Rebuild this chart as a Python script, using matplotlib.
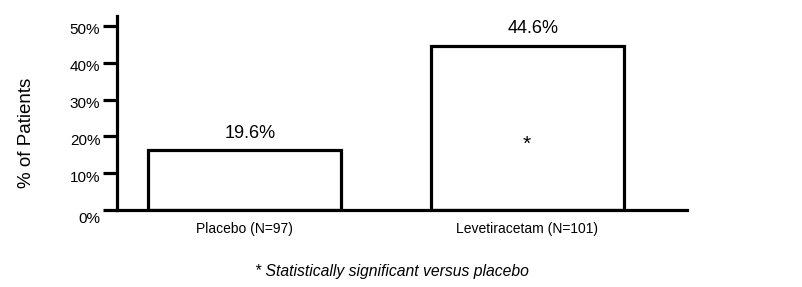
import matplotlib
matplotlib.use("Agg")
import matplotlib.pyplot as plt
import matplotlib.transforms as mtransforms

categories = ["Placebo (N=97)", "Levetiracetam (N=101)"]
bar_heights = [16.2, 44.6]          # heights as drawn in the picture
value_labels = ["19.6%", "44.6%"]   # printed labels
y_ticks = [0, 10, 20, 30, 40, 50]
y_tick_labels = ["0%", "10%", "20%", "30%", "40%", "50%"]
footnote = "* Statistically significant versus placebo"

plt.rcParams['font.family'] = ['Liberation Sans', 'DejaVu Sans']

fig = plt.figure(figsize=(8.03, 2.87), dpi=100)
ax = fig.add_axes([0.1457, 0.2683, 0.7098, 0.676])

x = list(range(len(categories)))
ax.bar(x, bar_heights, width=0.683, facecolor="white", edgecolor="black", linewidth=2.3)

ax.set_xlim(-0.451, 1.566)
ax.set_ylim(0, 52.7)

for s in ["top", "right"]:
    ax.spines[s].set_visible(False)
for s in ["left", "bottom"]:
    ax.spines[s].set_linewidth(2.3)

ax.set_yticks(y_ticks)
ax.set_yticklabels(y_tick_labels, fontsize=11)
ax.tick_params(axis="y", length=10, width=2.3, pad=2)
for i, lab in enumerate(ax.get_yticklabels()):
    dy = -8 if i == 0 else -3
    lab.set_transform(lab.get_transform() + mtransforms.ScaledTranslation(0, dy / 100, fig.dpi_scale_trans))

ax.set_xticks(x)
ax.set_xticklabels(categories, fontsize=10)
ax.tick_params(axis="x", length=0, pad=9)

fig.text(27 / 803, 1 - 133 / 287, "% of Patients", rotation=90, ha="center", va="center", fontsize=13.5)

for xi, h, lab in zip(x, bar_heights, value_labels):
    ax.annotate(lab, (xi + 0.02, h), xytext=(0, 6), textcoords="offset points",
                ha="center", va="bottom", fontsize=13)

ax.text(x[1], bar_heights[1] * 0.40, "*", ha="center", va="center", fontsize=15)

fig.text(0.488, 0.055, footnote, ha="center", va="center", fontsize=11.3, style="italic")

fig.savefig("out.png", dpi=100)
